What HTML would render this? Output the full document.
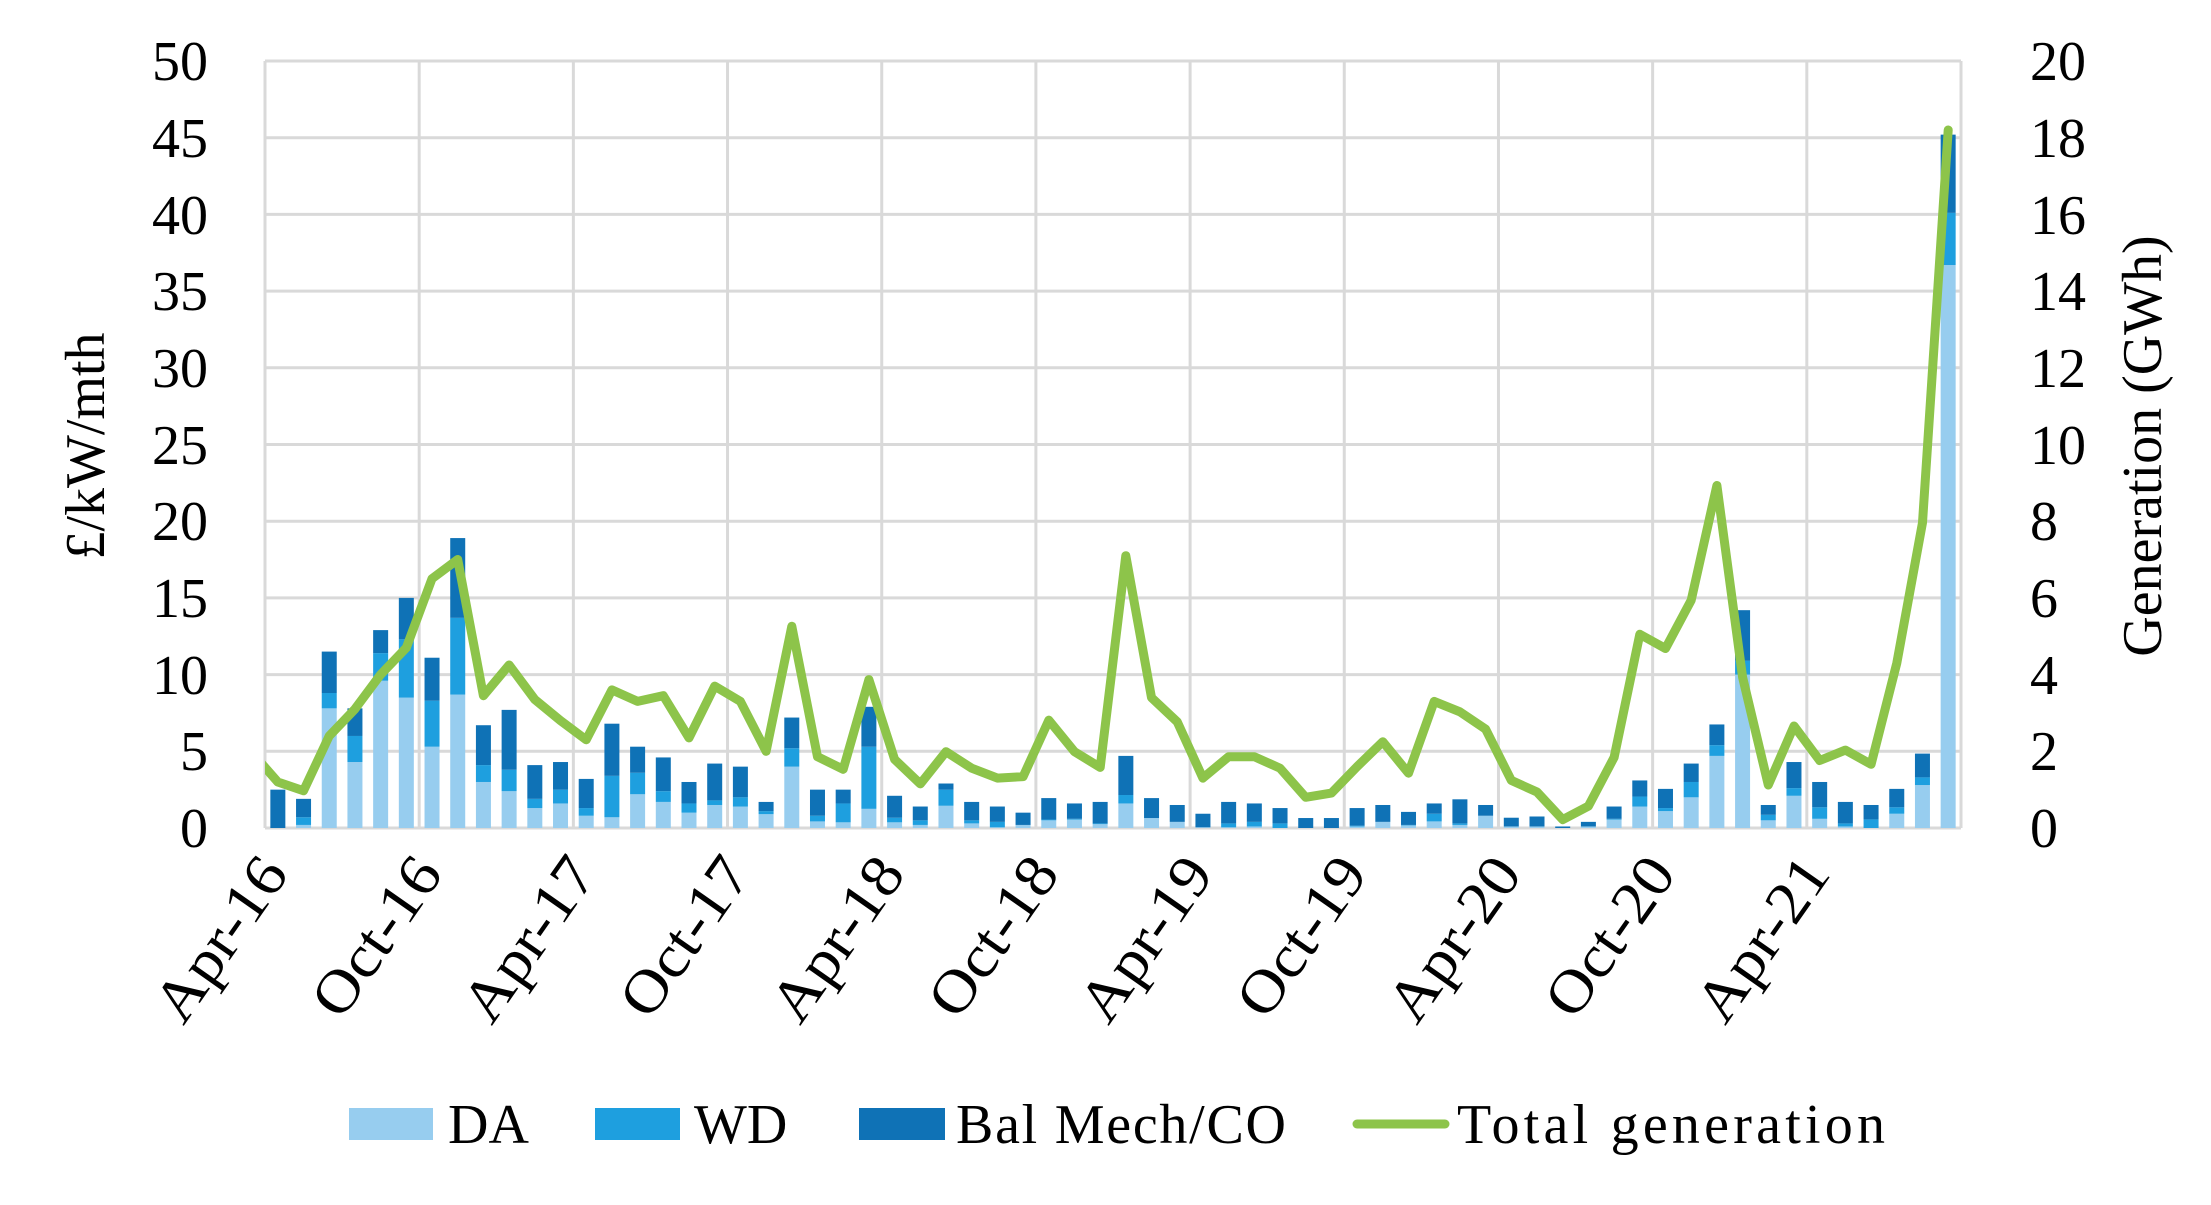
<!DOCTYPE html>
<html><head><meta charset="utf-8"><style>
html,body{margin:0;padding:0;background:#fff}
svg{display:block}
text{font-family:"Liberation Serif","DejaVu Serif",serif;fill:#000}
</style></head><body>
<svg id="c" width="2211" height="1205" viewBox="0 0 2211 1205" xmlns="http://www.w3.org/2000/svg">
<defs><clipPath id="cp"><rect x="265" y="40" width="1696" height="800"/></clipPath></defs>
<g id="grid"></g>
<g id="bars"></g>
<g clip-path="url(#cp)"><polyline id="ln" fill="none" stroke="#8DC44A" stroke-width="9" stroke-linejoin="round" stroke-linecap="round"/></g>
<g font-size="56" text-anchor="end">
<text x="208" y="847">0</text><text x="208" y="770">5</text><text x="208" y="694">10</text><text x="208" y="617">15</text><text x="208" y="540">20</text><text x="208" y="464">25</text><text x="208" y="387">30</text><text x="208" y="310">35</text><text x="208" y="234">40</text><text x="208" y="157">45</text><text x="208" y="80">50</text>
</g>
<g font-size="56" text-anchor="start">
<text x="2030" y="847">0</text><text x="2030" y="770">2</text><text x="2030" y="694">4</text><text x="2030" y="617">6</text><text x="2030" y="540">8</text><text x="2030" y="464">10</text><text x="2030" y="387">12</text><text x="2030" y="310">14</text><text x="2030" y="234">16</text><text x="2030" y="157">18</text><text x="2030" y="80">20</text>
</g>
<text font-size="56" text-anchor="middle" transform="translate(104,446) rotate(-90)">£/kW/mth</text>
<text font-size="56" text-anchor="middle" transform="translate(2161,446) rotate(-90)">Generation (GWh)</text>
<g id="xl" font-size="60" text-anchor="end"></g>
<g font-size="56">
<rect x="349" y="1108" width="84" height="32" fill="#97CDEF"/><text x="448" y="1143">DA</text>
<rect x="595" y="1108" width="85" height="32" fill="#1E9FDF"/><text x="694" y="1143">WD</text>
<rect x="859" y="1108" width="86" height="32" fill="#0F72B6"/><text x="956" y="1143" textLength="330">Bal Mech/CO</text>
<line x1="1357" y1="1124" x2="1445" y2="1124" stroke="#8DC44A" stroke-width="9" stroke-linecap="round"/><text x="1457" y="1143" textLength="428">Total generation</text>
</g>
</svg>
<script>
var L=265,R=1961,T=61,B=828,n=66,w=(R-L)/n,ns="http://www.w3.org/2000/svg";
function el(p,t,a){var e=document.createElementNS(ns,t);for(var k in a)e.setAttribute(k,a[k]);p.appendChild(e);return e;}
var g=document.getElementById('grid');
for(var i=0;i<=10;i++){var y=B-i*(B-T)/10;el(g,'line',{x1:L,x2:R,y1:y,y2:y,stroke:'#d9d9d9','stroke-width':3});}
for(var k=0;k<=11;k++){var x=L+k*6*w;if(k==11)x=R;el(g,'line',{x1:x,x2:x,y1:T,y2:B,stroke:'#d9d9d9','stroke-width':3});}
var d=[[0,0,2.5],[0.2,0.7,1.9],[7.8,8.8,11.5],[4.3,6.0,7.8],[9.6,11.4,12.9],[8.5,12.3,15.0],[5.3,8.3,11.1],[8.7,13.7,18.9],[3.0,4.1,6.7],[2.4,3.8,7.7],[1.3,1.9,4.1],[1.6,2.5,4.3],[0.8,1.3,3.2],[0.7,3.4,6.8],[2.2,3.6,5.3],[1.7,2.4,4.6],[1.0,1.6,3.0],[1.5,1.8,4.2],[1.4,2.0,4.0],[0.9,1.1,1.7],[4.0,5.2,7.2],[0.43,0.8,2.5],[0.37,1.6,2.5],[1.25,5.3,7.9],[0.37,0.67,2.1],[0.2,0.5,1.4],[1.45,2.5,2.9],[0.3,0.5,1.7],[0.05,0.4,1.4],[0.2,0.2,1.0],[0.5,0.55,1.95],[0.55,0.6,1.6],[0.25,0.3,1.7],[1.6,2.15,4.7],[0.65,0.65,1.95],[0.4,0.4,1.5],[0.05,0.05,0.93],[0.05,0.3,1.7],[0.1,0.4,1.6],[0,0.3,1.3],[0,0,0.65],[0,0,0.65],[0.1,0.15,1.3],[0.4,0.4,1.5],[0.17,0.2,1.05],[0.43,0.93,1.6],[0.2,0.3,1.87],[0.8,0.8,1.5],[0.1,0.1,0.67],[0.1,0.1,0.75],[0,0,0.1],[0.1,0.1,0.4],[0.55,0.6,1.4],[1.4,2.05,3.1],[1.1,1.3,2.55],[2.0,3.0,4.2],[4.7,5.4,6.75],[10.0,10.9,14.2],[0.5,0.86,1.5],[2.1,2.6,4.3],[0.6,1.35,3.0],[0.1,0.3,1.7],[0,0.56,1.5],[0.93,1.35,2.55],[2.8,3.3,4.85],[36.7,40.1,45.2]];
var ln=[1.96,1.2,0.97,2.4,3.1,4.0,4.7,6.5,7.0,3.45,4.25,3.35,2.8,2.3,3.6,3.3,3.45,2.35,3.7,3.3,2.0,5.26,1.86,1.53,3.87,1.79,1.15,1.99,1.56,1.3,1.34,2.81,1.99,1.58,7.1,3.4,2.77,1.3,1.86,1.86,1.56,0.8,0.91,1.6,2.25,1.43,3.3,3.03,2.58,1.24,0.94,0.22,0.57,1.84,5.05,4.68,5.94,8.93,3.93,1.12,2.66,1.76,2.03,1.66,4.3,7.96,18.2];
var ly=(B-T)/50,ry=(B-T)/20,bw=15,bg=document.getElementById('bars');
d.forEach(function(v,i){var cx=L+(i+0.5)*w,x=cx-bw/2;
 function r(a,b,c){if(b-a<=0)return;el(bg,'rect',{x:x,width:bw,y:B-b*ly,height:(b-a)*ly,fill:c});}
 r(0,v[0],'#97CDEF');r(v[0],v[1],'#1E9FDF');r(v[1],v[2],'#0F72B6');});
var pts=[];ln.forEach(function(v,j){var i=j-1;pts.push((L+(i+0.5)*w).toFixed(1)+','+(B-v*ry).toFixed(1));});
document.getElementById('ln').setAttribute('points',pts.join(' '));
var labs=['Apr-16','Oct-16','Apr-17','Oct-17','Apr-18','Oct-18','Apr-19','Oct-19','Apr-20','Oct-20','Apr-21'],xl=document.getElementById('xl');
labs.forEach(function(s,k){var x=L+k*6*w+25,y=874;var t=el(xl,'text',{transform:'translate('+x+','+y+') rotate(-55)',textLength:(s[0]=='O'?180:186),lengthAdjust:'spacingAndGlyphs'});t.textContent=s;});
</script>
</body></html>
